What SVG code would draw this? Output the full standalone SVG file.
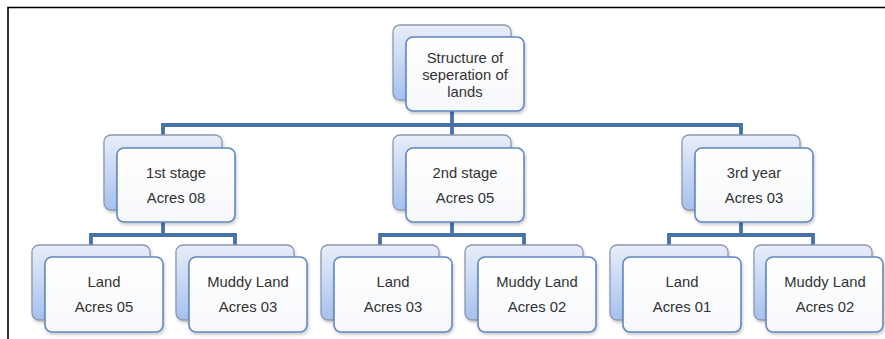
<svg xmlns="http://www.w3.org/2000/svg" width="885" height="339" viewBox="0 0 885 339">
<defs>
<linearGradient id="gBack" x1="0" y1="0" x2="0" y2="1">
<stop offset="0" stop-color="#e8eef9"/>
<stop offset="1" stop-color="#a6c0ee"/>
</linearGradient>
<linearGradient id="gFront" x1="0" y1="0" x2="0" y2="1">
<stop offset="0" stop-color="#ffffff"/>
<stop offset="1" stop-color="#f6f8fb"/>
</linearGradient>
<filter id="sh" x="-10%" y="-10%" width="130%" height="130%">
<feDropShadow dx="1" dy="2" stdDeviation="1.5" flood-color="#000" flood-opacity="0.22"/>
</filter>
</defs>
<style>
.back{fill:url(#gBack);stroke:#8c99ae;stroke-width:1.3;filter:url(#sh)}
.front{fill:url(#gFront);stroke:#5f88c4;stroke-width:1.6;filter:url(#sh)}
.t{font-family:"Liberation Sans",Arial,sans-serif;font-size:14.8px;fill:#333;text-anchor:middle}
.c{fill:none;stroke:#4672a9;stroke-width:3.8;stroke-linejoin:miter}
.frame{fill:none;stroke:#000;stroke-width:1.6}
</style>
<rect width="885" height="339" fill="#fff"/>
<path class="frame" d="M8,339 V7.5 H885"/>
<g id="connectors">
<path class="c" d="M452,111 V125 M163,135 V125 H741 V135 M452,125 V135"/>
<path class="c" d="M163,222 V235 M91,245 V235 H235 V245"/>
<path class="c" d="M452,222 V235 M380,245 V235 H524 V245"/>
<path class="c" d="M741,222 V235 M669,245 V235 H813 V245"/>
</g>
<g id="root">
<rect class="back" x="393" y="25" width="118" height="75" rx="7"/>
<rect class="front" x="406" y="37" width="118" height="74" rx="7"/>
<text class="t" x="465" y="63">Structure of</text>
<text class="t" x="465" y="80">seperation of</text>
<text class="t" x="465" y="97">lands</text>
</g>
<g id="stage1">
<rect class="back" x="104" y="135" width="118" height="75" rx="7"/>
<rect class="front" x="117" y="148" width="118" height="74" rx="7"/>
<text class="t" x="176" y="178">1st stage</text>
<text class="t" x="176" y="203">Acres 08</text>
</g>
<g id="stage2">
<rect class="back" x="393" y="135" width="118" height="75" rx="7"/>
<rect class="front" x="406" y="148" width="118" height="74" rx="7"/>
<text class="t" x="465" y="178">2nd stage</text>
<text class="t" x="465" y="203">Acres 05</text>
</g>
<g id="stage3">
<rect class="back" x="682" y="135" width="118" height="75" rx="7"/>
<rect class="front" x="695" y="148" width="118" height="74" rx="7"/>
<text class="t" x="754" y="178">3rd year</text>
<text class="t" x="754" y="203">Acres 03</text>
</g>
<g id="land1">
<rect class="back" x="32" y="245" width="118" height="75" rx="7"/>
<rect class="front" x="45" y="257" width="118" height="75" rx="7"/>
<text class="t" x="104" y="287">Land</text>
<text class="t" x="104" y="312">Acres 05</text>
</g>
<g id="muddy1">
<rect class="back" x="176" y="245" width="118" height="75" rx="7"/>
<rect class="front" x="189" y="257" width="118" height="75" rx="7"/>
<text class="t" x="248" y="287">Muddy Land</text>
<text class="t" x="248" y="312">Acres 03</text>
</g>
<g id="land2">
<rect class="back" x="321" y="245" width="118" height="75" rx="7"/>
<rect class="front" x="334" y="257" width="118" height="75" rx="7"/>
<text class="t" x="393" y="287">Land</text>
<text class="t" x="393" y="312">Acres 03</text>
</g>
<g id="muddy2">
<rect class="back" x="465" y="245" width="118" height="75" rx="7"/>
<rect class="front" x="478" y="257" width="118" height="75" rx="7"/>
<text class="t" x="537" y="287">Muddy Land</text>
<text class="t" x="537" y="312">Acres 02</text>
</g>
<g id="land3">
<rect class="back" x="610" y="245" width="118" height="75" rx="7"/>
<rect class="front" x="623" y="257" width="118" height="75" rx="7"/>
<text class="t" x="682" y="287">Land</text>
<text class="t" x="682" y="312">Acres 01</text>
</g>
<g id="muddy3">
<rect class="back" x="754" y="245" width="118" height="75" rx="7"/>
<rect class="front" x="766" y="257" width="117" height="75" rx="7"/>
<text class="t" x="825" y="287">Muddy Land</text>
<text class="t" x="825" y="312">Acres 02</text>
</g>
</svg>
